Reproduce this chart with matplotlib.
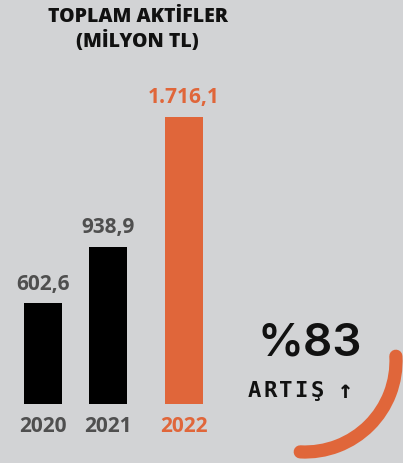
import matplotlib
matplotlib.use("Agg")
import matplotlib.pyplot as plt
from matplotlib.patches import Arc

# ---- data ----
years = ["2020", "2021", "2022"]
values = [602.6, 938.9, 1716.1]
value_labels = ["602,6", "938,9", "1.716,1"]
title_lines = ["TOPLAM AKTİFLER", "(MİLYON TL)"]
big_text = "%83"
sub_text = "ARTIŞ"

BG = "#d2d3d5"
ORANGE = "#e0663a"
GRAY = "#4f4f4f"
bar_colors = ["#000000", "#000000", ORANGE]
text_colors = [GRAY, GRAY, ORANGE]

W, H = 403, 464
fig = plt.figure(figsize=(W / 100, H / 100), dpi=100)
fig.patch.set_facecolor(BG)

# overlay axes in pixel coordinates (for decorations)
ov = fig.add_axes([0, 0, 1, 1])
ov.set_xlim(0, W)
ov.set_ylim(H, 0)
ov.axis("off")
ov.patch.set_alpha(0)

# bar axes
bottom_px, top_px = 404.7, 60
ax = fig.add_axes([0, (H - bottom_px) / H, 1, (bottom_px - top_px) / H])
ax.patch.set_alpha(0)
for s in ax.spines.values():
    s.set_visible(False)
ax.set_xticks([])
ax.set_yticks([])

positions = [0, 1, 2.17]
unit_px = 65.0
x0_px = 43.0
ax.set_xlim(-x0_px / unit_px, (W - x0_px) / unit_px)
ymax = values[-1] * (bottom_px - top_px) / (bottom_px - 118)
ax.set_ylim(0, ymax)

bars = ax.bar(positions, values, width=38 / unit_px, color=bar_colors)

fb = "Open Sans"
for b, lab, c in zip(bars, value_labels, text_colors):
    ax.annotate(lab, (b.get_x() + b.get_width() / 2, b.get_height()),
                xytext=(0, 20), textcoords="offset pixels",
                ha="center", va="center", fontsize=15, fontweight="bold",
                family=fb, color=c)
for p, y, c in zip(positions, years, text_colors):
    ax.annotate(y, (p, 0), xytext=(0, -22), textcoords="offset pixels",
                ha="center", va="center", fontsize=15, fontweight="bold",
                family=fb, color=c)

# title
ov.text(137.5, 17, title_lines[0], ha="center", va="center", fontsize=14,
        fontweight="heavy", family=fb, color="#111111")
ov.text(137.5, 41, title_lines[1], ha="center", va="center", fontsize=14,
        fontweight="heavy", family=fb, color="#111111")

# big percent
ov.text(310, 344, big_text, ha="center", va="center", fontsize=33,
        family="Inter", fontweight="semibold", color="#111111")

# ARTIŞ in wide monospace, one char per cell
for i, ch in enumerate(sub_text):
    ov.text(254.5 + i * 15.6, 391, ch, ha="center", va="center", fontsize=16,
            family="DejaVu Sans Mono", fontweight="bold", color="#111111")
ov.text(345, 391, "↑", ha="center", va="center", fontsize=18,
        family="DejaVu Sans Mono", fontweight="bold", color="#111111")

# orange arc
arc = Arc((305, 362), 182, 182, theta1=-3, theta2=93, color=ORANGE,
          lw=9.5, capstyle="round")
ov.add_patch(arc)

fig.savefig("out.png", dpi=100, facecolor=BG)
